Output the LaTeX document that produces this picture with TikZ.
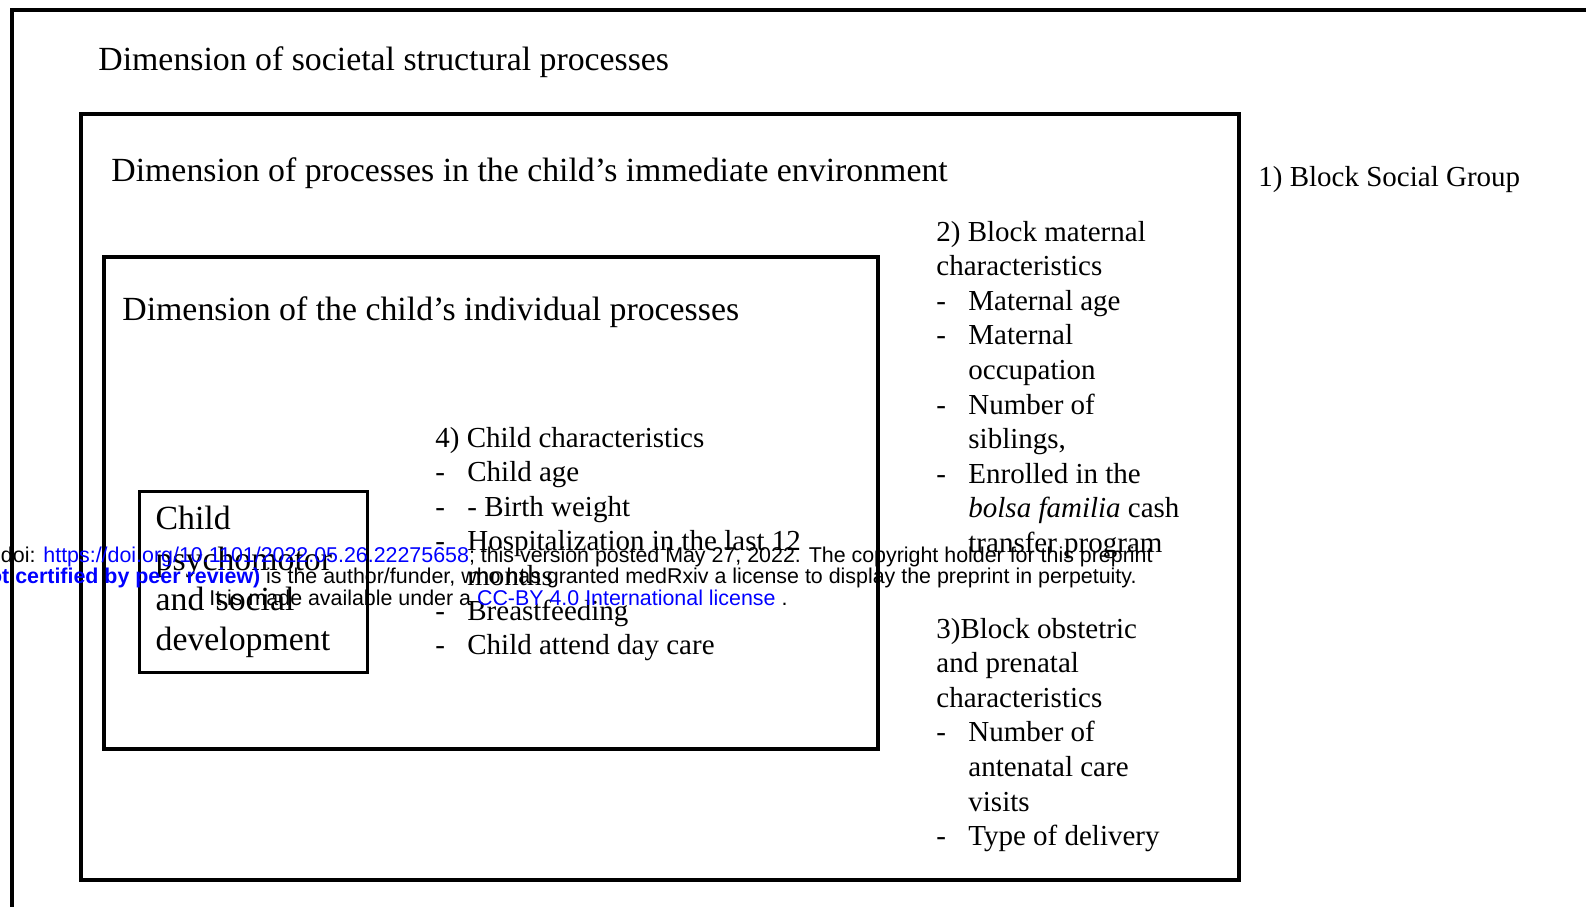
\documentclass[tikz,border=0pt]{standalone}
\usepackage{fontspec}
\setmainfont{Liberation Serif}
\newfontfamily\wmfont{Liberation Sans}
\definecolor{linkblue}{RGB}{0,0,255}
\newcommand{\dash}{\makebox[16pt][l]{-}}
\newcommand{\cont}{\hspace*{16pt}}
\newcommand{\blk}[1]{\begin{tabular}[t]{@{}l@{}}#1\end{tabular}}
\tikzset{
  frame/.style={line width=1.6pt},
  title/.style={anchor=base west, inner sep=0pt, font=\fontsize{16.9}{19}\selectfont},
  block/.style={anchor=base west, inner sep=0pt, font=\fontsize{14.5}{17.3}\selectfont},
  wmark/.style={inner sep=0pt, font=\wmfont\fontsize{10.7}{10.5}\selectfont},
}
\begin{document}
\begin{tikzpicture}[x=0.5pt, y=-0.5pt]
	\useasboundingbox (0,0) rectangle (1586,906);
	\clip (0,0) rectangle (1586,906);

	% the three dimensions
	\draw[frame] (12,10) rectangle (1620,940);
	\draw[frame] (81,114) rectangle (1239,880);
	\draw[frame] (104,257) rectangle (878,749);

	\node[title] (societal) at (98,70) {Dimension of societal structural processes};
	\node[title] (environment) at (111,181) {Dimension of processes in the child's immediate environment};
	\node[title] (individual) at (122,320) {Dimension of the child's individual processes};

	% outcome
	\node[draw, frame, anchor=north west, minimum width=114pt, minimum height=90.5pt,
		inner xsep=8pt, text width=98pt, align=left,
		font=\fontsize{16.9}{20.2}\selectfont] (child) at (138,490)
		{Child\\ psychomotor\\ and social\\ development};

	% blocks
	\node[block] (social) at (1258,186) {1) Block Social Group};
	\node[block] (maternal) at (936,241) {\blk{2) Block maternal\\ characteristics\\
		\dash Maternal age\\ \dash Maternal\\ \cont occupation\\ \dash Number of\\
		\cont siblings,\\ \dash Enrolled in the\\ \cont\textit{bolsa familia} cash\\
		\cont transfer program}};
	\node[block] (obstetric) at (936,638) {\blk{3)Block obstetric\\ and prenatal\\
		characteristics\\ \dash Number of\\ \cont antenatal care\\ \cont visits\\
		\dash Type of delivery}};
	\node[block] (childchar) at (435,447) {\blk{4) Child characteristics\\
		\dash Child age\\ \dash - Birth weight\\ \dash Hospitalization in the last 12\\
		\cont months\\ \dash Breastfeeding\\ \dash Child attend day care}};

	% preprint stamp
	\node[wmark, anchor=base east] (wm1) at (1153,562) {medRxiv preprint doi: \textcolor{linkblue}{https://doi.org/10.1101/2022.05.26.22275658}; this version posted May 27, 2022. The copyright holder for this preprint};
	\node[wmark, anchor=base east] (wm2) at (1137,583) {\textcolor{linkblue}{\bfseries(which was not certified by peer review)} is the author/funder, who has granted medRxiv a license to display the preprint in perpetuity.};
	\node[wmark, anchor=base west] (wm3) at (209,605) {It is made available under a \textcolor{linkblue}{CC-BY 4.0 International license} .};
\end{tikzpicture}
\end{document}
